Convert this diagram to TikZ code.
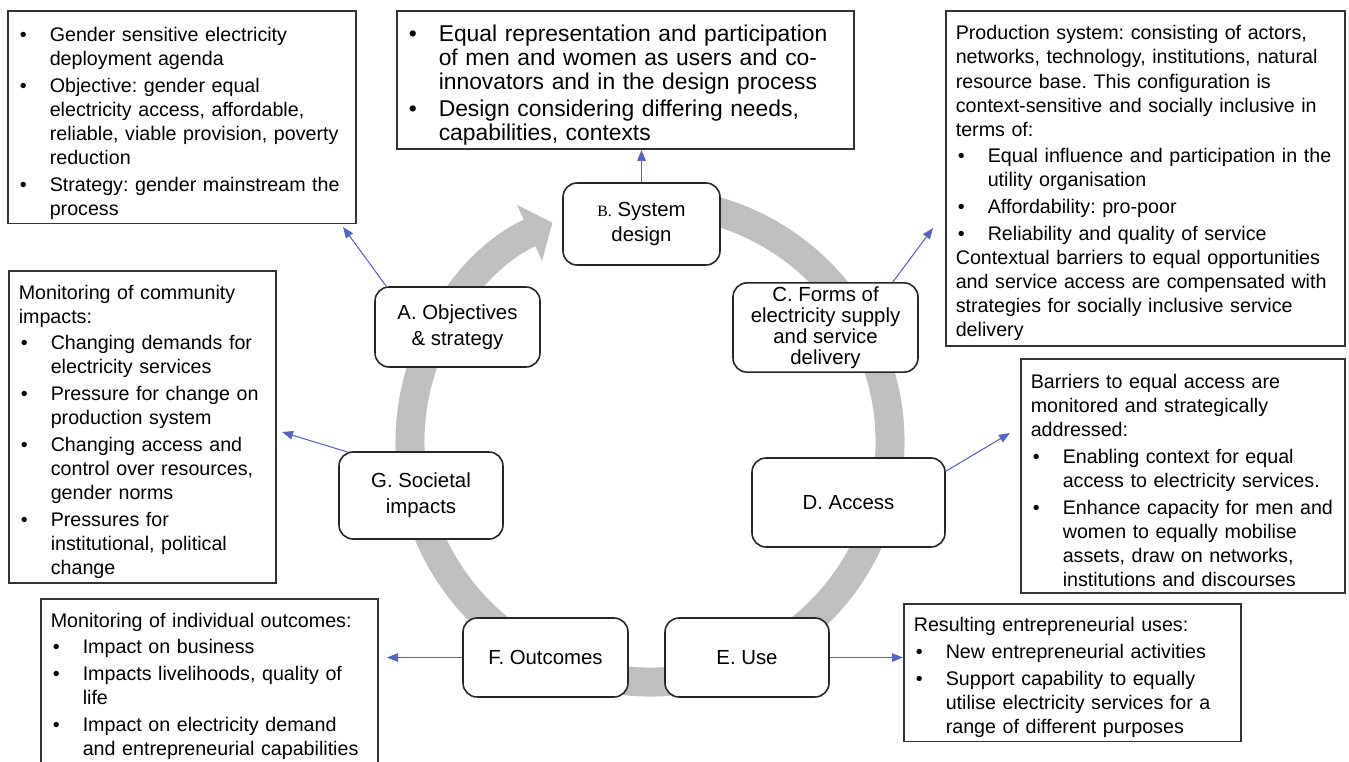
\documentclass[tikz,border=0pt]{standalone}
\usepackage{fontspec}
\setmainfont{Liberation Sans}
\newfontfamily\serifb{Liberation Serif}
\usetikzlibrary{arrows.meta,calc}

\definecolor{ringgray}{RGB}{191,191,191}
\definecolor{linkblue}{RGB}{84,100,196}

\newcommand{\boxfont}{\fontsize{11.2}{13.7}\selectfont\frenchspacing}
\newcommand{\bigboxfont}{\fontsize{13}{13.7}\selectfont\frenchspacing}
\newcommand{\stagefont}{\fontsize{11.6}{14.6}\selectfont}
\newcommand{\nl}{\unskip\hfil\break}
\newcommand{\bitem}{\par\vspace{1.5pt}\noindent\hangindent=0.64cm\hangafter=1\makebox[0.64cm][l]{\hspace{0.04cm}\textbullet}}
\newcommand{\bplain}{\par\noindent}

\tikzset{
  infobox/.style={draw=black!80, line width=0.9pt, fill=white, anchor=north west,
    align=left, inner xsep=0.2cm, inner ysep=0.08cm, font=\boxfont},
  stagebox/.style={draw=black!85, line width=0.9pt, fill=white, rounded corners=0.28cm,
    align=center, inner sep=2pt, font=\stagefont},
  link/.style={linkblue, line width=0.6pt, -{Triangle[length=0.22cm, width=0.17cm]}},
  ringarrow/.style={ringgray, line width=0.58cm, -{Triangle[length=0.5cm, width=1.2cm]}}
}

\begin{document}
\begin{tikzpicture}[x=0.02cm, y=-0.02cm]
  \useasboundingbox (0,0) rectangle (1349,761);

  % Cycle
  \coordinate (ringc) at (650,442);
  \draw[ringarrow] (ringc) ++(280:240) arc (280:606:240);

  % Stages
  \node[stagebox, minimum width=3.3cm, minimum height=1.6cm] (objectives) at (457.5,327) {A. Objectives\\\& strategy};
  \node[stagebox, minimum width=3.14cm, minimum height=1.64cm] (design) at (641.5,224) {{\serifb\small B.} System\\design};
  \node[stagebox, minimum width=3.7cm, minimum height=1.7cm, font=\fontsize{11.6}{12}\selectfont] (forms) at (825.5,327.5) {C. Forms of\\electricity supply\\and service\\delivery};
  \node[stagebox, minimum width=3.86cm, minimum height=1.78cm] (access) at (848.5,502.5) {D. Access};
  \node[stagebox, minimum width=3.28cm, minimum height=1.58cm] (use) at (747,657.5) {E. Use};
  \node[stagebox, minimum width=3.3cm, minimum height=1.58cm] (outcomes) at (545.5,657.5) {F. Outcomes};
  \node[stagebox, minimum width=3.28cm, minimum height=1.74cm] (impacts) at (421,495.5) {G. Societal\\impacts};

  % Description boxes
  \node[infobox, text width=6.56cm, minimum height=4.2cm] (goalsbox) at (7,10) {%
    \bitem Gender sensitive electricity\nl deployment agenda
    \bitem Objective: gender equal\nl electricity access, affordable,\nl reliable, viable provision, poverty\nl reduction
    \bitem Strategy: gender mainstream the\nl process\par};
  \node[infobox, text width=8.74cm, minimum height=2.24cm, font=\bigboxfont] (designbox) at (396,10) {%
    \bitem Equal representation and participation\nl of men and women as users and co-\nl innovators and in the design process
    \bitem Design considering differing needs,\nl capabilities, contexts\par};
  \node[infobox, text width=7.58cm, minimum height=6.7cm] (productionbox) at (945,10) {%
    \bplain Production system: consisting of actors,\nl networks, technology, institutions, natural\nl resource base. This configuration is\nl context-sensitive and socially inclusive in\nl terms of:
    \bitem Equal influence and participation in the\nl utility organisation
    \bitem Affordability: pro-poor
    \bitem Reliability and quality of service
    \bplain Contextual barriers to equal opportunities\nl and service access are compensated with\nl strategies for socially inclusive service\nl delivery\par};
  \node[infobox, text width=4.94cm, minimum height=6.24cm] (communitybox) at (8,270) {%
    \bplain Monitoring of community\nl impacts:
    \bitem Changing demands for\nl electricity services
    \bitem Pressure for change on\nl production system
    \bitem Changing access and\nl control over resources,\nl gender norms
    \bitem Pressures for\nl institutional, political\nl change\par};
  \node[infobox, text width=6.08cm, minimum height=4.68cm] (accessbox) at (1020,358) {%
    \bplain Barriers to equal access are\nl monitored and strategically\nl addressed:
    \bitem Enabling context for equal\nl access to electricity services.
    \bitem Enhance capacity for men and\nl women to equally mobilise\nl assets, draw on networks,\nl institutions and discourses\par};
  \node[infobox, text width=6.34cm, minimum height=3.3cm] (outcomesbox) at (40,598) {%
    \bplain Monitoring of individual outcomes:
    \bitem Impact on business
    \bitem Impacts livelihoods, quality of\nl life
    \bitem Impact on electricity demand\nl and entrepreneurial capabilities\par};
  \node[infobox, text width=6.34cm, minimum height=2.66cm] (usesbox) at (903,603) {%
    \bplain Resulting entrepreneurial uses:
    \bitem New entrepreneurial activities
    \bitem Support capability to equally\nl utilise electricity services for a\nl range of different purposes\par};

  % Links from stages to boxes
  \coordinate (goalstip) at (343,227);
  \coordinate (productiontip) at (933,228);
  \coordinate (accesstip) at (1010,433);
  \coordinate (communitytip) at (282,432);
  \coordinate (outcomestip) at (387,657.5);

  \draw[link] ($(objectives.north west)+(12,0)$) -- (goalstip);
  \draw[link] (design.north) -- (design.north |- designbox.south);
  \draw[link] ($(forms.north east)+(-26,0)$) -- (productiontip);
  \draw[link] ($(access.north east)+(0,14)$) -- (accesstip);
  \draw[link] (use.east) -- (use.east -| usesbox.west);
  \draw[link] (outcomes.west) -- (outcomestip);
  \draw[link] ($(impacts.north west)+(10,1)$) -- (communitytip);
\end{tikzpicture}
\end{document}
